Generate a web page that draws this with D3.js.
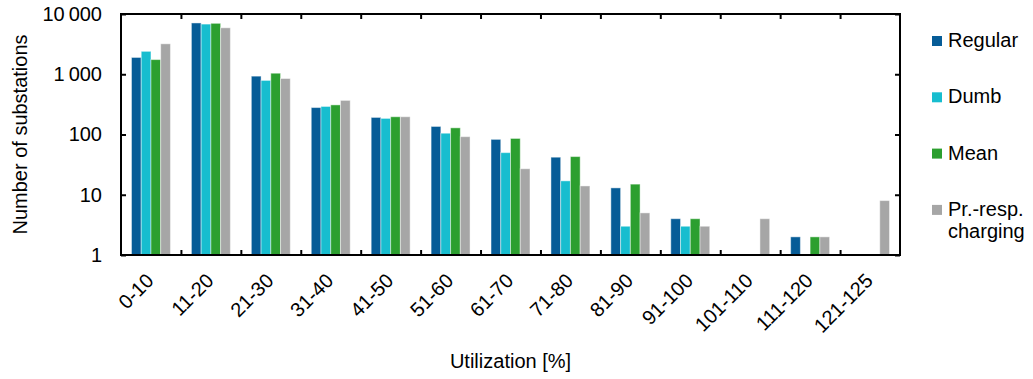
<!DOCTYPE html>
<html>
<head>
<meta charset="utf-8">
<script src="https://cdn.jsdelivr.net/npm/d3@7"></script>
<style>
  body { margin: 0; background: #fff; }
  text { font-family: "Liberation Sans", Arial, sans-serif; }
</style>
</head>
<body>
<script>
// Global variable
const w = 1033;
const h = 379;
const margin = {left: 121, right: 133, top: 14, bottom: 124};

// data (0 = no bar)
const categories = ["0-10", "11-20", "21-30", "31-40", "41-50", "51-60", "61-70",
                    "71-80", "81-90", "91-100", "101-110", "111-120", "121-125"];
const seriesNames = ["Regular", "Dumb", "Mean", "Pr.-resp. charging"];
const regular = [1900, 7100, 930, 280, 192, 136, 83, 42, 13, 4, 0, 2, 0];
const dumb    = [2400, 6800, 790, 292, 185, 105, 50, 17, 3, 3, 0, 0, 0];
const mean    = [1750, 7000, 1040, 310, 197, 129, 86, 43, 15, 4, 0, 2, 0];
const prResp  = [3200, 5900, 850, 368, 197, 92, 27, 14, 5, 3, 4, 2, 8];
const yTicks  = [1, 10, 100, 1000, 10000];
const colors  = ["#065c97", "#17bdcf", "#2c9f2f", "#a6a6a6"];

const series = [regular, dumb, mean, prResp];

//Create SVG element
let svg = d3.select("body")
            .append("svg")
                .attr("width", w)
                .attr("height", h);

const x0 = margin.left, x1 = w - margin.right;
const y0 = h - margin.bottom, y1 = margin.top;

let x = d3.scaleBand()
        .domain(categories)
        .range([x0, x1])
        .paddingInner(0.35)
        .paddingOuter(0.175);

let xs = d3.scaleBand()
        .domain(d3.range(series.length))
        .range([0, x.bandwidth()]);

let xb = d3.scaleLinear().domain([0, categories.length]).range([x0, x1]);

let y = d3.scaleLog()
        .domain([1, 10000])
        .range([y0, y1]);

const fmt = (d) => d >= 1000 ? d3.format(",")(d).replace(/,/g, "\u2009") : String(d);

// bars
categories.forEach((c, i) => {
    let g = svg.append("g").attr("transform", "translate(" + x(c) + ",0)");
    g.selectAll("rect")
        .data(series.map((s, j) => ({v: s[i], j: j})).filter((d) => d.v > 0))
        .enter()
        .append("rect")
        .attr("x", (d) => xs(d.j))
        .attr("width", xs.bandwidth())
        .attr("y", (d) => y(d.v))
        .attr("height", (d) => y0 - y(d.v))
        .attr("fill", (d) => colors[d.j])
        .attr("stroke", "#fff")
        .attr("stroke-opacity", 0.45)
        .attr("stroke-width", 1);
});

// axes with inside ticks
svg.append("g")
    .attr("transform", "translate(" + x0 + ",0)")
    .call(d3.axisLeft(y).tickValues(yTicks).tickFormat(fmt).tickSize(-5).tickPadding(19));

svg.append("g")
    .attr("transform", "translate(" + x1 + ",0)")
    .call(d3.axisRight(y).tickValues(yTicks).tickFormat("").tickSize(-5));

svg.append("g")
    .attr("transform", "translate(0," + y0 + ")")
    .call(d3.axisBottom(xb).tickValues(d3.range(1, categories.length)).tickFormat("").tickSize(-5));

svg.append("g")
    .attr("transform", "translate(0," + y1 + ")")
    .call(d3.axisTop(xb).tickValues(d3.range(1, categories.length)).tickFormat("").tickSize(-5));

svg.selectAll(".domain").remove();
svg.selectAll(".tick line").attr("stroke", "#000").attr("stroke-width", 2);
svg.selectAll(".tick text").attr("font-size", 20).attr("fill", "#000")
    .style("font-family", "'Liberation Sans', Arial, sans-serif");

// frame
svg.append("rect")
    .attr("x", x0).attr("y", y1)
    .attr("width", x1 - x0).attr("height", y0 - y1)
    .attr("fill", "none")
    .attr("stroke", "#000")
    .attr("stroke-width", 2);

// x tick labels
svg.selectAll(".xlab")
    .data(categories)
    .enter()
    .append("text")
    .attr("class", "xlab")
    .attr("text-anchor", "end")
    .attr("font-size", 20)
    .attr("transform", (d) => "translate(" + (x(d) + x.bandwidth() / 2 + 4) + "," + 282 + ") rotate(-45)")
    .text((d) => d);

// titles
svg.append("text")
    .attr("text-anchor", "middle")
    .attr("font-size", 20)
    .attr("x", (x0 + x1) / 2)
    .attr("y", 368)
    .text("Utilization [%]");

svg.append("text")
    .attr("text-anchor", "middle")
    .attr("font-size", 20)
    .attr("transform", "translate(27," + ((y0 + y1) / 2) + ") rotate(-90)")
    .text("Number of substations");

// legend
let legend = svg.append("g").attr("transform", "translate(932,0)");
seriesNames.forEach((name, i) => {
    let ly = 47 + i * 56.3;
    legend.append("rect")
        .attr("x", 0).attr("y", ly - 11)
        .attr("width", 10).attr("height", 10)
        .attr("fill", colors[i]);
    let t = legend.append("text")
        .attr("x", 16).attr("y", ly)
        .attr("font-size", 20);
    if (name === "Pr.-resp. charging") {
        t.append("tspan").attr("x", 16).text("Pr.-resp.");
        t.append("tspan").attr("x", 16).attr("dy", 22).text("charging");
    } else {
        t.text(name);
    }
});
</script>
</body>
</html>
